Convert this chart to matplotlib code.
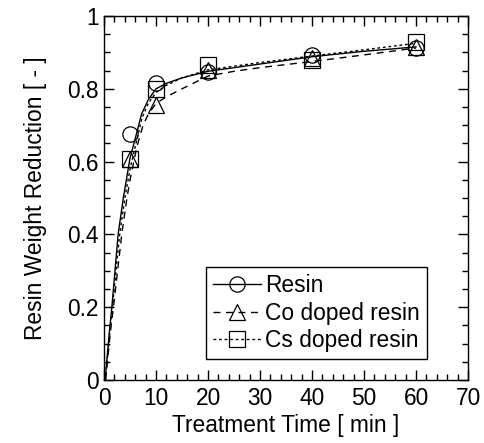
import numpy as np
import matplotlib
matplotlib.use('Agg')
import matplotlib.pyplot as plt
from matplotlib.ticker import MultipleLocator

plt.rcParams['font.family'] = ['Liberation Sans', 'DejaVu Sans']

# measured points
t_meas = [5, 10, 20, 40, 60]
resin_meas = [0.676, 0.816, 0.846, 0.893, 0.912]
co_meas = [0.607, 0.755, 0.852, 0.885, 0.915]
cs_meas = [0.608, 0.800, 0.864, 0.880, 0.929]

# fitted curves
t_fit = [0.2, 1, 1.5, 2.7, 3.7, 5, 6.3, 7.2, 8.5, 10, 12, 15, 20, 25, 30, 40, 50, 60]
resin_fit = [0.0, 0.13, 0.20, 0.40, 0.50, 0.61, 0.68, 0.73, 0.77, 0.80, 0.815, 0.83, 0.848, 0.858, 0.868, 0.888, 0.903, 0.915]
t_fit_co = [0.3, 1.2, 1.8, 3.4, 4.4, 5, 6.3, 7.5, 8.5, 10, 12, 15, 20, 25, 30, 40, 50, 60]
co_fit = [0.0, 0.13, 0.20, 0.40, 0.50, 0.55, 0.64, 0.70, 0.73, 0.76, 0.778, 0.80, 0.835, 0.848, 0.858, 0.875, 0.893, 0.912]
t_fit_cs = [0.25, 1.1, 1.6, 3.0, 4.0, 5, 6.3, 7.3, 8.5, 10, 12, 15, 20, 25, 30, 40, 50, 60]
cs_fit = [0.0, 0.13, 0.20, 0.40, 0.50, 0.58, 0.66, 0.72, 0.76, 0.79, 0.81, 0.83, 0.852, 0.862, 0.872, 0.89, 0.907, 0.925]

fig = plt.figure(figsize=(4.84, 4.43), dpi=100)
ax = fig.add_axes([0.215, 0.142, 0.752, 0.822])

mk = dict(markersize=11, markerfacecolor='none', markeredgecolor='black', markeredgewidth=0.9)

ax.plot(t_fit, resin_fit, color='black', lw=1.0, ls='-')
ax.plot(t_fit_co, co_fit, color='black', lw=1.0, ls=(0, (5, 4)))
ax.plot(t_fit_cs, cs_fit, color='black', lw=1.0, ls=(0, (2, 2)))

ax.plot(t_meas, resin_meas, ls='none', marker='o', **mk)
ax.plot(t_meas, co_meas, ls='none', marker='^', **mk)
ax.plot(t_meas, cs_meas, ls='none', marker='s', **mk)

# legend proxies: line + marker
h1, = ax.plot([], [], color='black', lw=1.0, ls='-', marker='o', **mk)
h2, = ax.plot([], [], color='black', lw=1.0, ls=(0, (5, 4)), marker='^', **mk)
h3, = ax.plot([], [], color='black', lw=1.0, ls=(0, (2, 2)), marker='s', **mk)
leg = ax.legend([h1, h2, h3], ['Resin', 'Co doped resin', 'Cs doped resin'],
                loc='lower right', bbox_to_anchor=(0.887, 0.058), fontsize=16.4,
                frameon=True, fancybox=False, edgecolor='black', framealpha=1,
                handlelength=2.1, handletextpad=0.2, borderpad=0.3,
                labelspacing=0.2, borderaxespad=0)
leg.get_frame().set_linewidth(1.0)

ax.set_xlim(0, 70)
ax.set_ylim(0, 1)
ax.xaxis.set_major_locator(MultipleLocator(10))
ax.xaxis.set_minor_locator(MultipleLocator(2))
ax.yaxis.set_major_locator(MultipleLocator(0.2))
ax.yaxis.set_minor_locator(MultipleLocator(0.05))
ax.set_yticks([0, 0.2, 0.4, 0.6, 0.8, 1.0])
ax.set_yticklabels(['0', '0.2', '0.4', '0.6', '0.8', '1'])
ax.tick_params(which='both', direction='in', top=True, right=True, labelsize=16.4, width=1.0)
ax.tick_params(axis='x', which='both', pad=5)
ax.tick_params(axis='y', which='both', pad=4)
ax.tick_params(which='major', length=7)
ax.tick_params(which='minor', length=4)
for s in ax.spines.values():
    s.set_linewidth(1.0)

ax.set_xlabel('Treatment Time [ min ]', fontsize=16.4, labelpad=3)
ax.set_ylabel('Resin Weight Reduction [ - ]', fontsize=16.4, labelpad=14)

fig.savefig('out.png', dpi=100)
